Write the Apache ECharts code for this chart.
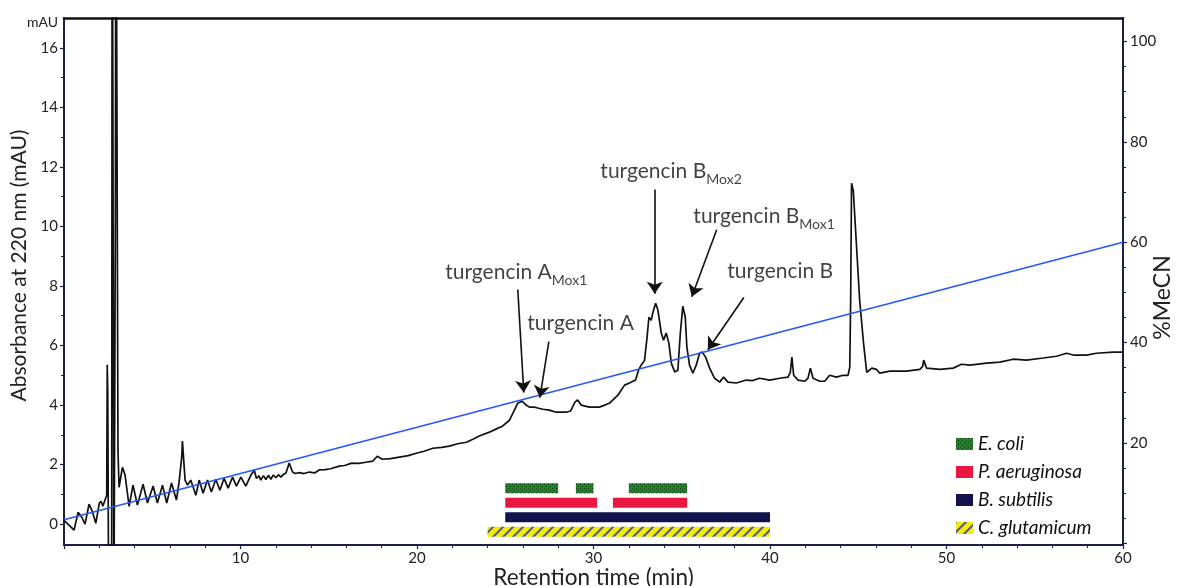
<!DOCTYPE html>
<html>
<head>
<meta charset="utf-8">
<title>turgencin HPLC</title>
<script src="https://cdn.jsdelivr.net/npm/echarts@6/dist/echarts.min.js"></script>
<style>
  html, body { margin: 0; background: #fff; }
  #chart { width: 1180px; height: 586px; }
</style>
</head>
<body>
<div id="chart"></div>
<script>
// chromatogram at 220 nm: [retention time (min), absorbance (mAU)]
var absorbance = [
  [0.00,0.13],[0.40,-0.10],[0.57,-0.20],[0.80,0.40],[1.00,0.24],[1.19,0.00],[1.42,0.67],[1.60,0.44],
  [1.80,0.03],[2.00,0.70],[2.10,0.77],[2.20,0.60],[2.42,0.97],[2.45,5.35],[2.48,4.40],[2.50,1.60],
  [2.53,-3],[2.70,-3],[2.73,25],[2.80,25],[2.83,-3],[2.88,-3],[2.91,10.1],[2.94,25],[3.03,25],
  [3.06,2.40],[3.12,1.24],[3.31,1.91],[3.46,1.65],[3.69,0.60],[3.91,1.31],[4.16,0.64],[4.48,1.34],
  [4.73,0.71],[5.05,1.28],[5.29,0.71],[5.58,1.31],[5.82,0.71],[6.09,1.38],[6.37,0.81],[6.52,1.41],
  [6.67,2.25],[6.71,2.79],[6.80,2.79],[6.86,1.48],[7.00,1.31],[7.18,1.48],[7.47,0.97],[7.66,1.48],
  [7.88,1.04],[8.13,1.48],[8.35,1.08],[8.60,1.51],[8.83,1.14],[9.07,1.54],[9.30,1.21],[9.55,1.58],
  [9.77,1.28],[10.02,1.58],[10.30,1.28],[10.59,1.65],[10.78,1.81],[10.90,1.54],[11.05,1.62],
  [11.15,1.48],[11.30,1.63],[11.44,1.50],[11.58,1.64],[11.72,1.51],[11.86,1.65],[12.00,1.56],
  [12.15,1.66],[12.29,1.58],[12.45,1.68],[12.57,1.71],[12.76,2.05],[12.95,1.75],[13.10,1.70],
  [13.33,1.73],[13.60,1.70],[13.90,1.75],[14.20,1.72],[14.46,1.82],[14.80,1.83],[15.10,1.86],
  [15.60,1.95],[15.90,1.97],[16.30,2.05],[16.70,2.04],[17.10,2.08],[17.50,2.12],[17.75,2.28],
  [18.03,2.18],[18.50,2.20],[19.00,2.25],[19.50,2.30],[19.96,2.38],[20.40,2.45],[20.90,2.55],
  [21.40,2.58],[21.83,2.62],[22.30,2.70],[22.80,2.75],[23.20,2.86],[23.53,2.96],[24.10,3.09],
  [24.50,3.20],[24.84,3.29],[25.24,3.49],[25.52,3.83],[25.70,4.06],[25.95,4.13],[26.18,4.00],
  [26.37,3.93],[26.65,3.93],[26.84,3.90],[27.13,3.86],[27.50,3.83],[27.88,3.76],[28.10,3.76],
  [28.45,3.76],[28.70,3.80],[28.95,4.10],[29.10,4.17],[29.30,4.00],[29.77,3.93],[30.34,3.93],
  [30.90,4.06],[31.38,4.33],[31.76,4.67],[32.04,4.74],[32.38,4.84],[32.57,5.20],[32.70,5.34],
  [32.89,5.50],[33.03,6.25],[33.14,6.95],[33.27,6.85],[33.37,7.12],[33.52,7.42],[33.65,7.19],
  [33.84,6.42],[33.97,6.18],[34.12,6.42],[34.27,6.08],[34.41,5.41],[34.60,5.11],[34.78,5.17],
  [34.92,6.42],[35.06,7.32],[35.20,6.95],[35.29,5.95],[35.44,5.34],[35.63,5.07],[35.82,5.34],
  [36.01,5.74],[36.16,5.78],[36.35,5.61],[36.58,5.24],[36.86,4.90],[37.15,4.77],[37.37,4.94],
  [37.62,4.77],[38.09,4.74],[38.66,4.84],[39.00,4.82],[39.41,4.90],[39.98,4.84],[40.55,4.90],
  [41.02,4.94],[41.15,5.10],[41.24,5.61],[41.34,5.00],[41.59,4.84],[41.97,4.80],[42.15,4.90],
  [42.29,5.24],[42.44,4.90],[42.82,4.80],[43.10,4.80],[43.38,5.00],[43.76,4.94],[44.14,5.00],
  [44.42,5.00],[44.52,5.27],[44.57,7.52],[44.62,11.45],[44.72,11.20],[44.86,9.77],[45.08,7.52],
  [45.30,6.08],[45.48,5.10],[45.77,5.24],[46.03,5.20],[46.22,5.07],[46.79,5.14],[47.73,5.14],
  [48.49,5.20],[48.65,5.30],[48.71,5.51],[48.87,5.24],[49.62,5.20],[50.38,5.24],[50.85,5.37],
  [51.32,5.34],[52.27,5.41],[53.02,5.44],[53.78,5.54],[54.54,5.51],[55.48,5.58],[56.24,5.64],
  [56.80,5.74],[57.18,5.68],[57.94,5.68],[58.50,5.74],[59.45,5.78],[60.00,5.78]
];
// acetonitrile gradient: [min, %MeCN]
var gradient = [[0, 4.7], [60, 60]];

var timeTicks = [0, 10, 20, 30, 40, 50, 60];
var timeLabels = [10, 20, 30, 40, 50, 60];
var absTicks = [0, 2, 4, 6, 8, 10, 12, 14, 16];
var mecnTicks = [0, 20, 40, 60, 80, 100];
var mecnLabels = [20, 40, 60, 80, 100];

// antimicrobial activity of collected fractions: [from min, to min]
var organisms = ['E. coli', 'P. aeruginosa', 'B. subtilis', 'C. glutamicum'];
var ecoliFractions = [[25, 28], [29, 30], [32, 35.3]];
var aeruginosaFractions = [[25, 30.2], [31.1, 35.3]];
var subtilisFractions = [[25, 40]];
var glutamicumFractions = [[24, 40]];

// peak annotations: name, subscript, arrow tip on the peak [min, mAU]
var peakNames = [['turgencin A', 'Mox1'], ['turgencin A', ''], ['turgencin B', 'Mox2'], ['turgencin B', 'Mox1'], ['turgencin B', '']];
var peakTips = [[26.05, 4.42], [26.96, 4.25], [33.47, 7.74], [35.57, 7.64], [36.48, 5.86]];

// layout of the annotation texts and arrow tails (axis units)
var labelAnchors = [[21.57, 8.45], [26.22, 6.74], [30.36, 11.84], [35.63, 10.33], [37.55, 8.51]];
var arrowTails = [[25.71, 7.88], [27.47, 6.13], [33.47, 11.24], [36.98, 9.89], [38.52, 7.61]];

var FONT = 'Lato';
var AXIS = '#1c1f48';

function pattern(bg, fg, kind) {
  var c = document.createElement('canvas');
  var ctx;
  if (kind === 'stripes') {
    c.width = 10; c.height = 10;
    ctx = c.getContext('2d');
    ctx.fillStyle = bg; ctx.fillRect(0, 0, 10, 10);
    ctx.strokeStyle = fg; ctx.lineWidth = 2;
    ctx.beginPath();
    ctx.moveTo(-5, 5); ctx.lineTo(5, -5);
    ctx.moveTo(0, 10); ctx.lineTo(10, 0);
    ctx.moveTo(5, 15); ctx.lineTo(15, 5);
    ctx.stroke();
  } else {
    c.width = 4; c.height = 4;
    ctx = c.getContext('2d');
    ctx.fillStyle = bg; ctx.fillRect(0, 0, 4, 4);
    ctx.fillStyle = fg;
    ctx.fillRect(0, 0, 1, 1); ctx.fillRect(2, 2, 1, 1);
  }
  return { image: c, repeat: 'repeat' };
}

var fills = [
  pattern('#1f8428', '#0a3d0e', 'dots'),
  '#e8173f',
  pattern('#12125f', '#05052e', 'dots'),
  pattern('#f2ee00', '#5a5c7c', 'stripes')
];
var fractionSets = [ecoliFractions, aeruginosaFractions, subtilisFractions, glutamicumFractions];

function renderFraction(params, api) {
  var a = api.coord([api.value(0), api.value(2)]);
  var b = api.coord([api.value(1), api.value(2)]);
  var h = api.size([0, 1])[1] * 0.7;
  return {
    type: 'rect',
    shape: { x: a[0], y: a[1] - h / 2, width: b[0] - a[0], height: h },
    style: api.style()
  };
}

var fractionSeries = organisms.map(function (name, i) {
  return {
    name: name,
    type: 'custom',
    xAxisIndex: 2,
    yAxisIndex: 2,
    renderItem: renderFraction,
    encode: { x: [0, 1], y: 2 },
    itemStyle: { color: fills[i] },
    silent: true,
    data: fractionSets[i].map(function (f) { return [f[0], f[1], name]; })
  };
});

var arrows = peakTips.map(function (tip, i) {
  return [{ coord: arrowTails[i] }, { coord: tip }];
});

var chart = echarts.init(document.getElementById('chart'));
chart.setOption({
  animation: false,
  textStyle: { fontFamily: FONT },
  grid: [
    { left: 64, right: 57, top: 18, bottom: 41, containLabel: false, outerBoundsMode: 'none' },
    { left: 64, right: 57, top: 481, height: 58, containLabel: false, outerBoundsMode: 'none' }
  ],
  legend: {
    data: organisms,
    orient: 'vertical',
    left: 951,
    top: 428,
    icon: 'rect',
    itemWidth: 17,
    itemHeight: 12,
    itemGap: 6,
    selectedMode: false,
    textStyle: { fontFamily: FONT, fontStyle: 'italic', fontSize: 19, color: '#111', lineHeight: 22 }
  },
  graphic: [{
    type: 'text', left: 27, top: 15,
    style: { text: 'mAU', font: '14px Lato', fill: '#222' }
  }],
  xAxis: [
    {
      type: 'value', gridIndex: 0, min: 0, max: 60, interval: 10, position: 'bottom',
      name: 'Retention time (min)', nameLocation: 'middle', nameGap: 21, nameMoveOverlap: false,
      nameTextStyle: { fontSize: 22.5, color: '#222', fontFamily: FONT },
      axisLine: { onZero: false, lineStyle: { color: AXIS, width: 2 } },
      axisTick: { length: 4, customValues: timeTicks, lineStyle: { color: AXIS, width: 1.2 } },
      minorTick: { show: true, splitNumber: 5, length: 3, lineStyle: { color: AXIS } },
      axisLabel: { customValues: timeLabels, margin: 6, fontSize: 15, color: '#222' },
      splitLine: { show: false }
    },
    {
      type: 'value', gridIndex: 0, min: 0, max: 60, position: 'top',
      axisLine: { show: true, onZero: false, lineStyle: { color: '#111', width: 2.5 } },
      axisTick: { show: false }, axisLabel: { show: false }, splitLine: { show: false }
    },
    { type: 'value', gridIndex: 1, min: 0, max: 60, show: false }
  ],
  yAxis: [
    {
      type: 'value', gridIndex: 0, min: -0.7, max: 17, splitNumber: 9, position: 'left',
      name: 'Absorbance at 220 nm (mAU)', nameLocation: 'middle', nameGap: 34, nameRotate: 90,
      nameMoveOverlap: false,
      nameTextStyle: { fontSize: 21, color: '#222', fontFamily: FONT, padding: [0, 0, 0, 32] },
      axisLine: { show: true, onZero: false, lineStyle: { color: AXIS, width: 2 } },
      axisTick: { show: true, length: 4, customValues: absTicks, lineStyle: { color: AXIS, width: 1.2 } },
      minorTick: { show: true, splitNumber: 2, length: 3, lineStyle: { color: AXIS } },
      axisLabel: { customValues: absTicks, margin: 6, fontSize: 15, color: '#222' },
      splitLine: { show: false }
    },
    {
      type: 'value', gridIndex: 0, min: -0.35, max: 104.7, splitNumber: 5, position: 'right',
      name: '%MeCN', nameLocation: 'middle', nameGap: 28, nameRotate: 90, nameMoveOverlap: false,
      nameTextStyle: { fontSize: 23, color: '#222', fontFamily: FONT, padding: [0, 32, 0, 0] },
      axisLine: { show: true, onZero: false, lineStyle: { color: AXIS, width: 2 } },
      axisTick: { show: true, length: 4, customValues: mecnTicks, lineStyle: { color: AXIS, width: 1.2 } },
      minorTick: { show: true, splitNumber: 4, length: 3, lineStyle: { color: AXIS } },
      axisLabel: { customValues: mecnLabels, margin: 7, fontSize: 15, color: '#222' },
      splitLine: { show: false }
    },
    { type: 'category', gridIndex: 1, data: organisms, inverse: true, show: false }
  ],
  series: [
    {
      name: 'A220',
      type: 'line',
      xAxisIndex: 0, yAxisIndex: 0,
      data: absorbance,
      symbol: 'none',
      clip: true,
      silent: true,
      lineStyle: { color: '#111', width: 1.7 },
      markLine: {
        silent: true,
        symbol: ['none', 'arrow'],
        symbolSize: 12,
        label: { show: false },
        lineStyle: { color: '#111', width: 1.6, type: 'solid' },
        data: arrows
      }
    },
    {
      name: 'MeCN',
      type: 'line',
      xAxisIndex: 0, yAxisIndex: 1,
      data: gradient,
      symbol: 'none',
      silent: true,
      lineStyle: { color: '#2457ff', width: 1.6 }
    },
    {
      name: 'peaks',
      type: 'scatter',
      xAxisIndex: 0, yAxisIndex: 0,
      symbolSize: 1,
      silent: true,
      itemStyle: { color: 'rgba(0,0,0,0)' },
      data: labelAnchors,
      label: {
        show: true,
        position: 'right',
        distance: 0,
        formatter: function (p) {
          var n = peakNames[p.dataIndex];
          return '{m|' + n[0] + '}' + (n[1] ? '{s|' + n[1] + '}' : '');
        },
        rich: {
          m: { fontFamily: FONT, fontSize: 21, color: '#111', lineHeight: 30 },
          s: { fontFamily: FONT, fontSize: 14, color: '#111', lineHeight: 12, verticalAlign: 'bottom' }
        }
      }
    }
  ].concat(fractionSeries)
});
</script>
</body>
</html>
